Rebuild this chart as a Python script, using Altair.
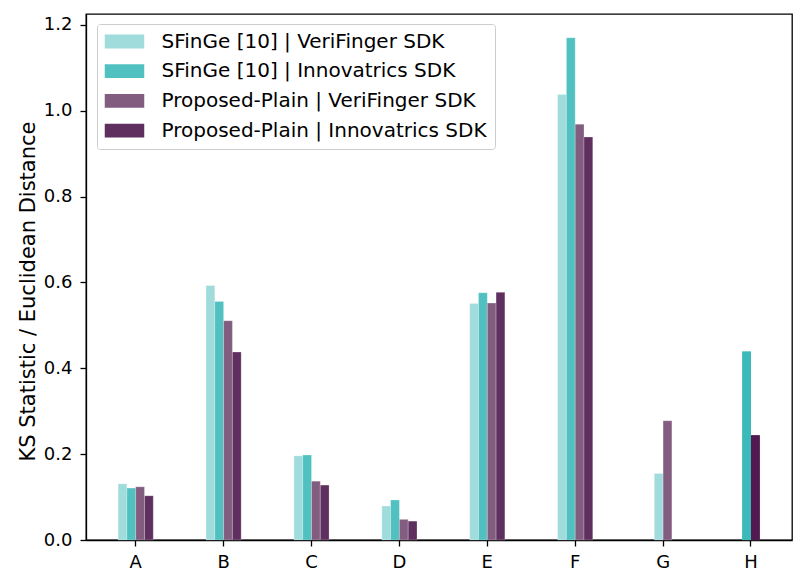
import altair as alt
import pandas as pd

categories = ["A", "B", "C", "D", "E", "F", "G", "H"]
series = [
    "SFinGe [10] | VeriFinger SDK",
    "SFinGe [10] | Innovatrics SDK",
    "Proposed-Plain | VeriFinger SDK",
    "Proposed-Plain | Innovatrics SDK",
]
colors = ["#a1dcdc", "#50c0c0", "#825d80", "#5f305f"]
strong_colors = ["#a1dcdc", "#3cb9b9", "#825d80", "#521a50"]

sfinge_veri = [0.131, 0.593, 0.196, 0.079, 0.551, 1.038, 0.155, None]
sfinge_inno = [0.121, 0.556, 0.198, 0.093, 0.576, 1.170, None, 0.439]
plain_veri = [0.124, 0.511, 0.137, 0.048, 0.552, 0.969, 0.278, None]
plain_inno = [0.103, 0.438, 0.128, 0.044, 0.577, 0.939, None, 0.244]
values = [sfinge_veri, sfinge_inno, plain_veri, plain_inno]

rows = []
for s_idx, (name, vals) in enumerate(zip(series, values)):
    for c_idx, (cat, v) in enumerate(zip(categories, vals)):
        if v is None:
            continue
        slot = s_idx
        strong = False
        if cat == "G":
            slot = 1 if s_idx == 0 else 2
        if cat == "H":
            slot = 1 if s_idx == 1 else 2
            strong = True
        rows.append({"cat": cat, "series": name, "value": v, "slot": slot,
                     "strong": strong, "hex": strong_colors[s_idx]})
df = pd.DataFrame(rows)

font = "DejaVu Sans"

base = alt.Chart(df).encode(
    x=alt.X("cat:N", sort=categories, title=None,
            scale=alt.Scale(paddingInner=0.5, paddingOuter=0.266, align=0.593),
            axis=alt.Axis(labelAngle=0, labelFontSize=18, labelFont=font, labelColor="black",
                          tickColor="black", domainColor="black", tickSize=6, labelPadding=7,
                          grid=False, domainWidth=1.3, tickWidth=1.3)),
    xOffset=alt.XOffset("slot:O", scale=alt.Scale(domain=[0, 1, 2, 3],
                                                 paddingInner=0, paddingOuter=0.5)),
    y=alt.Y("value:Q", title="KS Statistic / Euclidean Distance",
            scale=alt.Scale(domain=[0, 1.2256], nice=False, zero=True),
            axis=alt.Axis(values=[0, 0.2, 0.4, 0.6, 0.8, 1.0, 1.2], format=".1f",
                          labelFontSize=18, labelFont=font, labelColor="black",
                          titleFontSize=21, titleFont=font, titleFontWeight="normal", titleColor="black",
                          titleY=277,
                          tickColor="black", domainColor="black", tickSize=6, labelPadding=8,
                          titlePadding=5, grid=False, domainWidth=1.3, tickWidth=1.3)),
)

bars = base.mark_bar(stroke="white", strokeWidth=0.4, strokeOpacity=0.6).encode(
    color=alt.Color("series:N", sort=series,
                    scale=alt.Scale(domain=series, range=colors),
                    legend=alt.Legend(title=None, orient="none", legendX=11, legendY=10,
                                      symbolType="M-2,-0.7L2,-0.7L2,0.7L-2,0.7Z",
                                      symbolSize=390, symbolStrokeWidth=0, symbolOffset=10,
                                      labelFontSize=20, labelFont=font, labelColor="black",
                                      labelOffset=27, rowPadding=9.7, padding=7.5,
                                      strokeColor="#cccccc", fillColor="white",
                                      cornerRadius=3, labelLimit=0))
)

strong = base.transform_filter("datum.strong").mark_bar().encode(
    color=alt.Color("hex:N", scale=None)
)

chart = alt.layer(bars, strong).properties(
    width=706, height=526,
    padding={"left": 78, "top": 6, "right": 6, "bottom": 40},
    autosize=alt.AutoSizeParams(type="none"),
    background="white",
).configure_view(stroke="black", strokeWidth=1.3)

chart.save("out.html", embed_options={"renderer": "svg", "actions": False})
